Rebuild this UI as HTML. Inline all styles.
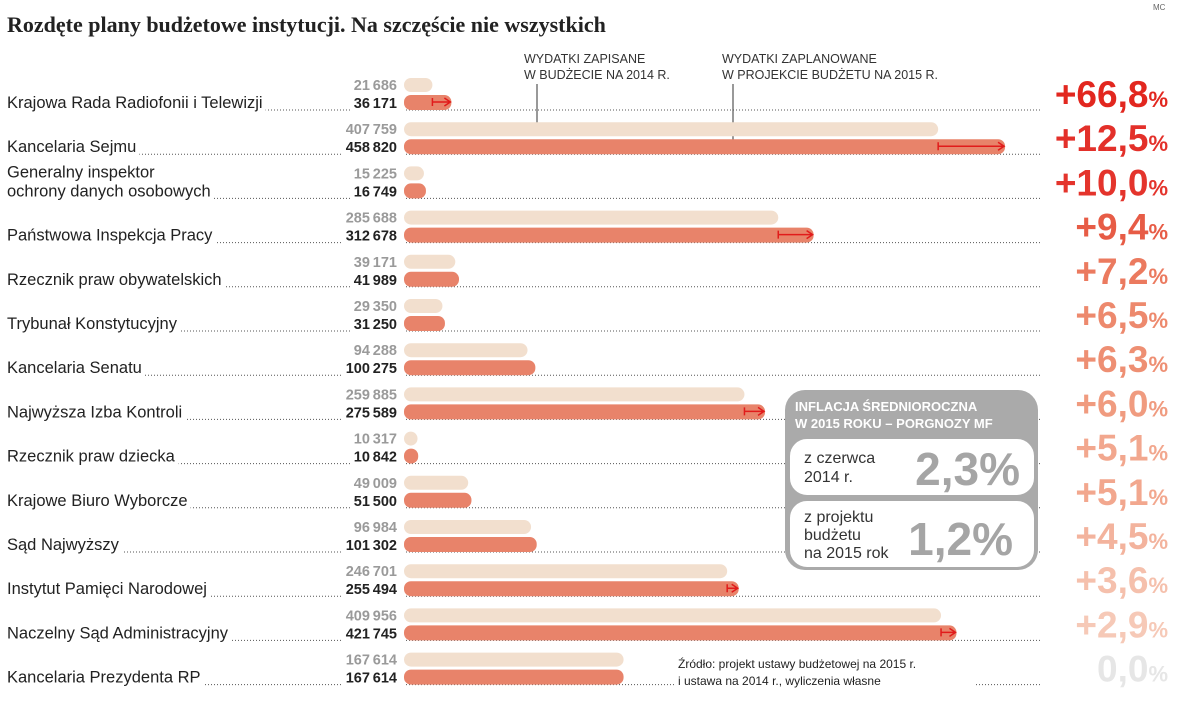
<!DOCTYPE html>
<html><head><meta charset="utf-8"><style>
body{margin:0;background:#fff;width:1200px;height:707px;overflow:hidden;font-family:"Liberation Sans",sans-serif;}
svg text{font-family:"Liberation Sans",sans-serif;}
</style></head><body>
<svg id="c" width="1200" height="707" xmlns="http://www.w3.org/2000/svg">
<text x="7" y="32" style="font-family:'Liberation Serif',serif" font-weight="bold" font-size="22" fill="#222">Rozdęte plany budżetowe instytucji. Na szczęście nie wszystkich</text>
<text x="1153" y="10" font-size="8" fill="#666">MC</text>
<g>
<text x="524" y="63" font-size="12.5" fill="#333">WYDATKI ZAPISANE</text>
<text x="524" y="79" font-size="12.5" fill="#333">W BUDŻECIE NA 2014 R.</text>
<line x1="537" y1="84" x2="537" y2="129" stroke="#333" stroke-width="1"/>
</g>
<g>
<text x="722" y="63" font-size="12.5" fill="#333">WYDATKI ZAPLANOWANE</text>
<text x="722" y="79" font-size="12.5" fill="#333">W PROJEKCIE BUDŻETU NA 2015 R.</text>
<line x1="733" y1="84" x2="733" y2="146" stroke="#333" stroke-width="1"/>
</g>
<g id="rows"></g>
<g>
<rect x="785" y="390" width="253" height="180" rx="20" fill="#aaa"/>
<text x="795" y="411" font-size="13" font-weight="bold" fill="#fff">INFLACJA ŚREDNIOROCZNA</text>
<text x="795" y="428" font-size="13" font-weight="bold" fill="#fff">W 2015 ROKU – PORGNOZY MF</text>
<rect x="789" y="438" width="246" height="58" rx="18" fill="#fff" stroke="#aaa" stroke-width="2"/>
<text x="804" y="463" font-size="16" fill="#333">z czerwca</text>
<text x="804" y="482" font-size="16" fill="#333">2014 r.</text>
<text x="1020" y="485" font-size="46" font-weight="bold" fill="#a5a5a5" text-anchor="end">2,3%</text>
<rect x="789" y="500" width="246" height="68" rx="18" fill="#fff" stroke="#aaa" stroke-width="2"/>
<text x="804" y="522" font-size="16" fill="#333">z projektu</text>
<text x="804" y="540" font-size="16" fill="#333">budżetu</text>
<text x="804" y="558" font-size="16" fill="#333">na 2015 rok</text>
<text x="1013" y="555" font-size="46" font-weight="bold" fill="#a5a5a5" text-anchor="end">1,2%</text>
</g>
<g>
<rect x="675" y="656" width="300" height="36" fill="#fff"/>
<text x="678" y="668" font-size="12" fill="#222">Źródło: projekt ustawy budżetowej na 2015 r.</text>
<text x="678" y="685" font-size="12" fill="#222">i ustawa na 2014 r., wyliczenia własne</text>
</g>
</svg>
<script>
const categories=["Krajowa Rada Radiofonii i Telewizji","Kancelaria Sejmu","Generalny inspektor|ochrony danych osobowych","Państwowa Inspekcja Pracy","Rzecznik praw obywatelskich","Trybunał Konstytucyjny","Kancelaria Senatu","Najwyższa Izba Kontroli","Rzecznik praw dziecka","Krajowe Biuro Wyborcze","Sąd Najwyższy","Instytut Pamięci Narodowej","Naczelny Sąd Administracyjny","Kancelaria Prezydenta RP"];
const spend2014=[21686,407759,15225,285688,39171,29350,94288,259885,10317,49009,96984,246701,409956,167614];
const spend2015=[36171,458820,16749,312678,41989,31250,100275,275589,10842,51500,101302,255494,421745,167614];
const changeLabels=["+66,8","+12,5","+10,0","+9,4","+7,2","+6,5","+6,3","+6,0","+5,1","+5,1","+4,5","+3,6","+2,9","0,0"];
const pctColors=["#e2271f","#e3302a","#e4342c","#e75c46","#eb7a5f","#ed896d","#ee8f73","#f09b7f","#f2a78e","#f2a78e","#f3b39d","#f5c0ac","#f6c9b7","#e6e6e6"];
const x0=404, xs=v=>x0+v*0.001310;
const rowY=i=>85+i*44.2;
const NS="http://www.w3.org/2000/svg";
const g=document.getElementById('rows');
const fmt=v=>String(v).replace(/\B(?=(\d{3})+(?!\d))/g,"\u2009");
function el(t,a,p){const e=document.createElementNS(NS,t);for(const k in a)e.setAttribute(k,a[k]);(p||g).appendChild(e);return e;}
categories.forEach((c,i)=>{
  const y=rowY(i), yd=y+17;
  const row=el('g',{});
  
  
  const dl=el('line',{x1:7,y1:yd+8,x2:1040,y2:yd+8,stroke:'#555','stroke-width':1,'stroke-dasharray':'1 2'},row);
  
  
  const parts=c.split('|');
  parts.forEach((p,j)=>{
    const ty=parts.length>1? yd+6-(parts.length-1-j)*19 : yd+6;
    const t=el('text',{x:7,y:ty,'font-size':16.5,fill:'#222'},row);
    t.textContent=p;
    
    
    if(j===parts.length-1){const bb=t.getBBox();const r=el('rect',{x:bb.x,y:bb.y,width:bb.width+3,height:bb.height,fill:'#fff'},row);row.insertBefore(r,t);}
  });
  const v1=el('text',{x:397,y:y+5,'font-size':14.5,'font-weight':'bold',fill:'#9a9a9a','text-anchor':'end'},row);
  v1.textContent=fmt(spend2014[i]);
  
  
  const v2t=fmt(spend2015[i]);
  const v2=el('text',{x:397,y:yd+6,'font-size':14.5,'font-weight':'bold',fill:'#222','text-anchor':'end'},row);
  v2.textContent=v2t;
  const bb=v2.getBBox();const r2=el('rect',{x:bb.x-3,y:bb.y,width:bb.width+10,height:bb.height,fill:'#fff'},row);row.insertBefore(r2,v2);
  
  
  const b1=el('rect',{x:x0,y:y-7,width:xs(spend2014[i])-x0,height:14,rx:7,fill:'#f2dfce'},row);
  
  
  const b2=el('rect',{x:x0,y:yd-7,width:xs(spend2015[i])-x0,height:15,rx:7,fill:'#e8836a'},row);
  
  
  const a=xs(spend2014[i]), b=xs(spend2015[i]);
  if(b-a>8){
    const ar=el('path',{d:`M${a} ${yd-4}V${yd+4}M${a} ${yd}H${b-2}M${b-7} ${yd-4}L${b-1} ${yd}L${b-7} ${yd+4}`,stroke:'#e11b1b','stroke-width':1.5,fill:'none'},row);
    
    
  }
  const pt=el('text',{x:1168,y:yd+5,'font-size':37,'font-weight':'bold',fill:pctColors[i],'text-anchor':'end'},row);
  
  
  const s1=el('tspan',{},pt);s1.textContent=changeLabels[i];
  const s2=el('tspan',{'font-size':22},pt);s2.textContent='%';
  const pb=pt.getBBox();const r3=el('rect',{x:pb.x-4,y:yd+2,width:pb.width+8,height:10,fill:'#fff'},row);row.insertBefore(r3,pt);
});
</script>
</body></html>
